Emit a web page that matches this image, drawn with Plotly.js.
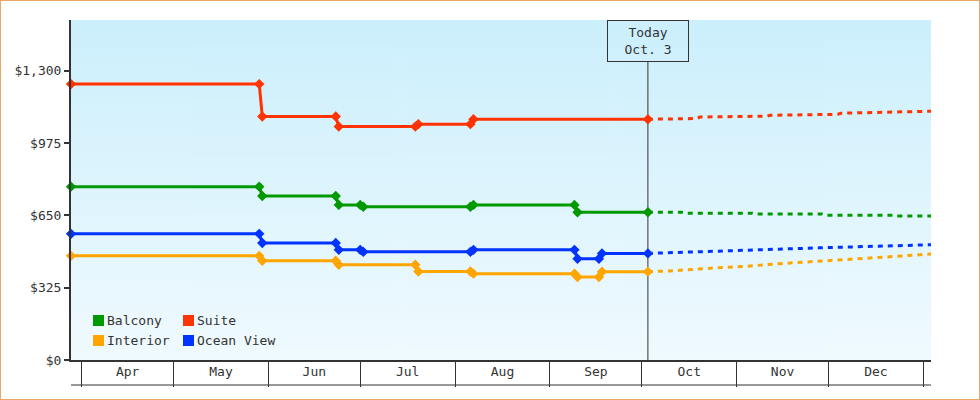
<!DOCTYPE html>
<html>
<head>
<meta charset="utf-8">
<script src="https://cdn.plot.ly/plotly-3.0.1.min.js"></script>
<style>
  html, body { margin: 0; padding: 0; background: #fff; }
  #wrap { position: relative; width: 980px; height: 400px; }
  #chart { width: 980px; height: 400px; }
  #frame { position: absolute; left: 0; top: 0; width: 980px; height: 400px; box-sizing: border-box; border: 1px solid #e9a964; pointer-events: none; }
</style>
</head>
<body>
<div id="wrap"><div id="chart"></div><div id="frame"></div></div>
<script>
// ---------- data ----------
const seriesNames = ['Balcony', 'Suite', 'Interior', 'Ocean View'];
const seriesColors = ['#009900', '#ff3300', '#ffa500', '#0033ff'];

const balconyDates = ['2013-03-28 12:00','2013-05-29','2013-05-30','2013-06-23','2013-06-24','2013-07-01','2013-07-02','2013-08-06','2013-08-07','2013-09-09','2013-09-10','2013-10-03'];
const balconyVals  = [779, 779, 737, 737, 697, 697, 689, 689, 697, 697, 664, 664];

const suiteDates = ['2013-03-28 12:00','2013-05-29','2013-05-30','2013-06-23','2013-06-24','2013-07-19','2013-07-20','2013-08-06','2013-08-07','2013-10-03'];
const suiteVals  = [1240, 1240, 1094, 1094, 1049, 1049, 1060, 1060, 1082, 1082];

const interiorDates = ['2013-03-28 12:00','2013-05-29','2013-05-30','2013-06-23','2013-06-24','2013-07-19','2013-07-20','2013-08-06','2013-08-07','2013-09-09','2013-09-10','2013-09-17','2013-09-18','2013-10-03'];
const interiorVals  = [468, 468, 446, 446, 428, 428, 398, 398, 388, 388, 373, 373, 397, 397];

const oceanDates = ['2013-03-28 12:00','2013-05-29','2013-05-30','2013-06-23','2013-06-24','2013-07-01','2013-07-02','2013-08-06','2013-08-07','2013-09-09','2013-09-10','2013-09-17','2013-09-18','2013-10-03'];
const oceanVals  = [567, 567, 526, 526, 495, 495, 486, 486, 495, 495, 455, 455, 479, 479];

// forecasts (dashed)
const balconyFcDates = ['2013-10-03','2013-10-14','2013-10-15','2013-11-06','2013-11-07','2013-11-29','2013-11-30','2013-12-22','2013-12-23','2014-01-03 12:00'];
const balconyFcVals  = [664, 664, 660, 660, 656, 656, 651, 651, 647, 647];

const suiteFcDates = ['2013-10-03','2013-10-19','2013-10-20','2013-11-11','2013-11-12','2013-12-04','2013-12-05','2013-12-17','2013-12-30','2014-01-03 12:00'];
const suiteFcVals  = [1082, 1085, 1092, 1096, 1100, 1104, 1109, 1113, 1117, 1118];

const interiorFcDates = ['2013-10-03','2013-10-10','2013-10-25','2013-11-04','2013-11-15','2013-11-30','2013-12-10','2013-12-20','2014-01-02','2014-01-03 12:00'];
const interiorFcVals  = [397, 400, 414, 421, 433, 445, 453, 463, 475, 476];

const oceanFcDates = ['2013-10-03','2013-10-09','2013-10-19','2013-10-29','2013-11-07','2013-11-17','2013-11-28','2013-12-08','2013-12-20','2013-12-30','2014-01-03 12:00'];
const oceanFcVals  = [479, 482, 486, 490, 495, 499, 504, 508, 513, 517, 518];

const yTickVals = [0, 325, 650, 975, 1300];
const yTickText = ['$0', '$325', '$650', '$975', '$1,300'];
const monthStarts = ['2013-04-01','2013-05-01','2013-06-01','2013-07-01','2013-08-01','2013-09-01','2013-10-01','2013-11-01','2013-12-01','2014-01-01'];
const monthMids = ['2013-04-16','2013-05-16 12:00','2013-06-16','2013-07-16 12:00','2013-08-16 12:00','2013-09-16','2013-10-16 12:00','2013-11-16','2013-12-16 12:00'];
const monthNames = ['Apr','May','Jun','Jul','Aug','Sep','Oct','Nov','Dec'];
const todayDate = '2013-10-03';
const todayLabel = 'Today<br>Oct. 3';
const xRange = ['2013-03-28 12:00', '2014-01-03 12:00'];
const yRange = [0, 1528];

// ---------- build ----------
const FONT = 'DejaVu Sans Mono';
const M = {l: 71, r: 49, t: 20, b: 40};
const PW = 980 - M.l - M.r, PH = 400 - M.t - M.b;
const px = v => (v - M.l) / PW;
const py = v => (M.t + PH - v) / PH;

const solid = [
  [balconyDates, balconyVals], [suiteDates, suiteVals],
  [interiorDates, interiorVals], [oceanDates, oceanVals]
];
const fc = [
  [balconyFcDates, balconyFcVals], [suiteFcDates, suiteFcVals],
  [interiorFcDates, interiorFcVals], [oceanFcDates, oceanFcVals]
];

const traces = [];
fc.forEach((s, i) => traces.push({
  type: 'scatter', mode: 'lines', x: s[0], y: s[1], name: seriesNames[i] + ' forecast',
  line: {color: seriesColors[i], width: 3, dash: '5px,5px'}, showlegend: false, hoverinfo: 'skip'
}));
solid.forEach((s, i) => traces.push({
  type: 'scatter', mode: 'lines+markers', x: s[0], y: s[1], name: seriesNames[i],
  line: {color: seriesColors[i], width: 3},
  marker: {symbol: 'diamond', size: 8, color: seriesColors[i]},
  cliponaxis: false, showlegend: false
}));
// carrier trace for the month-label axis
traces.push({type: 'scatter', mode: 'none', x: monthMids, y: monthMids.map(() => null),
  xaxis: 'x2', yaxis: 'y', showlegend: false, hoverinfo: 'skip'});

// gradient background
const cv = document.createElement('canvas');
cv.width = 4; cv.height = 340;
const cx = cv.getContext('2d');
const g = cx.createLinearGradient(0, 0, 0, 340);
g.addColorStop(0, '#cbeffc');
g.addColorStop(1, '#f0fafe');
cx.fillStyle = g; cx.fillRect(0, 0, 4, 340);
const bgURL = cv.toDataURL();

const shapes = [
  {type: 'line', xref: 'x', yref: 'paper', x0: todayDate, x1: todayDate, y0: 0, y1: 1 - 41 / PH,
   line: {color: '#333', width: 1}, layer: 'below'},
  {type: 'line', xref: 'paper', yref: 'paper', x0: 0, x1: 1, y0: -25 / PH, y1: -25 / PH,
   line: {color: '#333', width: 1}}
];
const annotations = [
  {x: todayDate, xref: 'x', y: 1, yref: 'paper', yanchor: 'top', xanchor: 'center',
   text: todayLabel, showarrow: false, font: {family: FONT, size: 13, color: '#333'},
   width: 78, height: 38, borderpad: 1, borderwidth: 1, bordercolor: '#333', bgcolor: 'rgba(0,0,0,0)'}
];
// custom legend (2 x 2)
const colX = [93, 183], rowY = [315, 335], SQ = 11;
seriesNames.forEach((n, i) => {
  const cx0 = colX[i % 2], cy0 = rowY[Math.floor(i / 2)];
  shapes.push({type: 'rect', xref: 'paper', yref: 'paper',
    x0: px(cx0), x1: px(cx0 + SQ), y0: py(cy0 + SQ), y1: py(cy0),
    fillcolor: seriesColors[i], line: {width: 0}});
  annotations.push({xref: 'paper', yref: 'paper', x: px(cx0 + SQ + 1), y: py(cy0 + SQ / 2),
    xanchor: 'left', yanchor: 'middle', text: n, showarrow: false,
    font: {family: FONT, size: 13, color: '#333'}});
});

const layout = {
  width: 980, height: 400, margin: M,
  paper_bgcolor: '#ffffff', plot_bgcolor: 'rgba(0,0,0,0)',
  font: {family: FONT, size: 13, color: '#333'},
  showlegend: false,
  xaxis: {
    type: 'date', range: xRange, tickvals: monthStarts, showticklabels: false,
    ticks: 'outside', ticklen: 25, tickwidth: 1, tickcolor: '#333',
    showline: true, linewidth: 2, linecolor: '#333', showgrid: false, zeroline: false, fixedrange: true
  },
  xaxis2: {
    type: 'date', range: xRange, overlaying: 'x', anchor: 'y', side: 'bottom',
    tickvals: monthMids, ticktext: monthNames, ticks: '', showline: false,
    showgrid: false, zeroline: false, ticklabelstandoff: 2,
    tickfont: {family: FONT, size: 13, color: '#333'}, fixedrange: true
  },
  yaxis: {
    range: yRange, tickvals: yTickVals, ticktext: yTickText,
    ticks: 'outside', ticklen: 5, tickwidth: 2, tickcolor: '#333',
    showline: true, linewidth: 2, linecolor: '#333', showgrid: false, zeroline: false,
    tickfont: {family: FONT, size: 13, color: '#333'}, fixedrange: true
  },
  images: [{source: bgURL, xref: 'paper', yref: 'paper', x: 0, y: 1, sizex: 1, sizey: 1,
    sizing: 'stretch', xanchor: 'left', yanchor: 'top', layer: 'below'}],
  shapes: shapes,
  annotations: annotations
};

Plotly.newPlot('chart', traces, layout, {displayModeBar: false, staticPlot: true});
</script>
</body>
</html>
